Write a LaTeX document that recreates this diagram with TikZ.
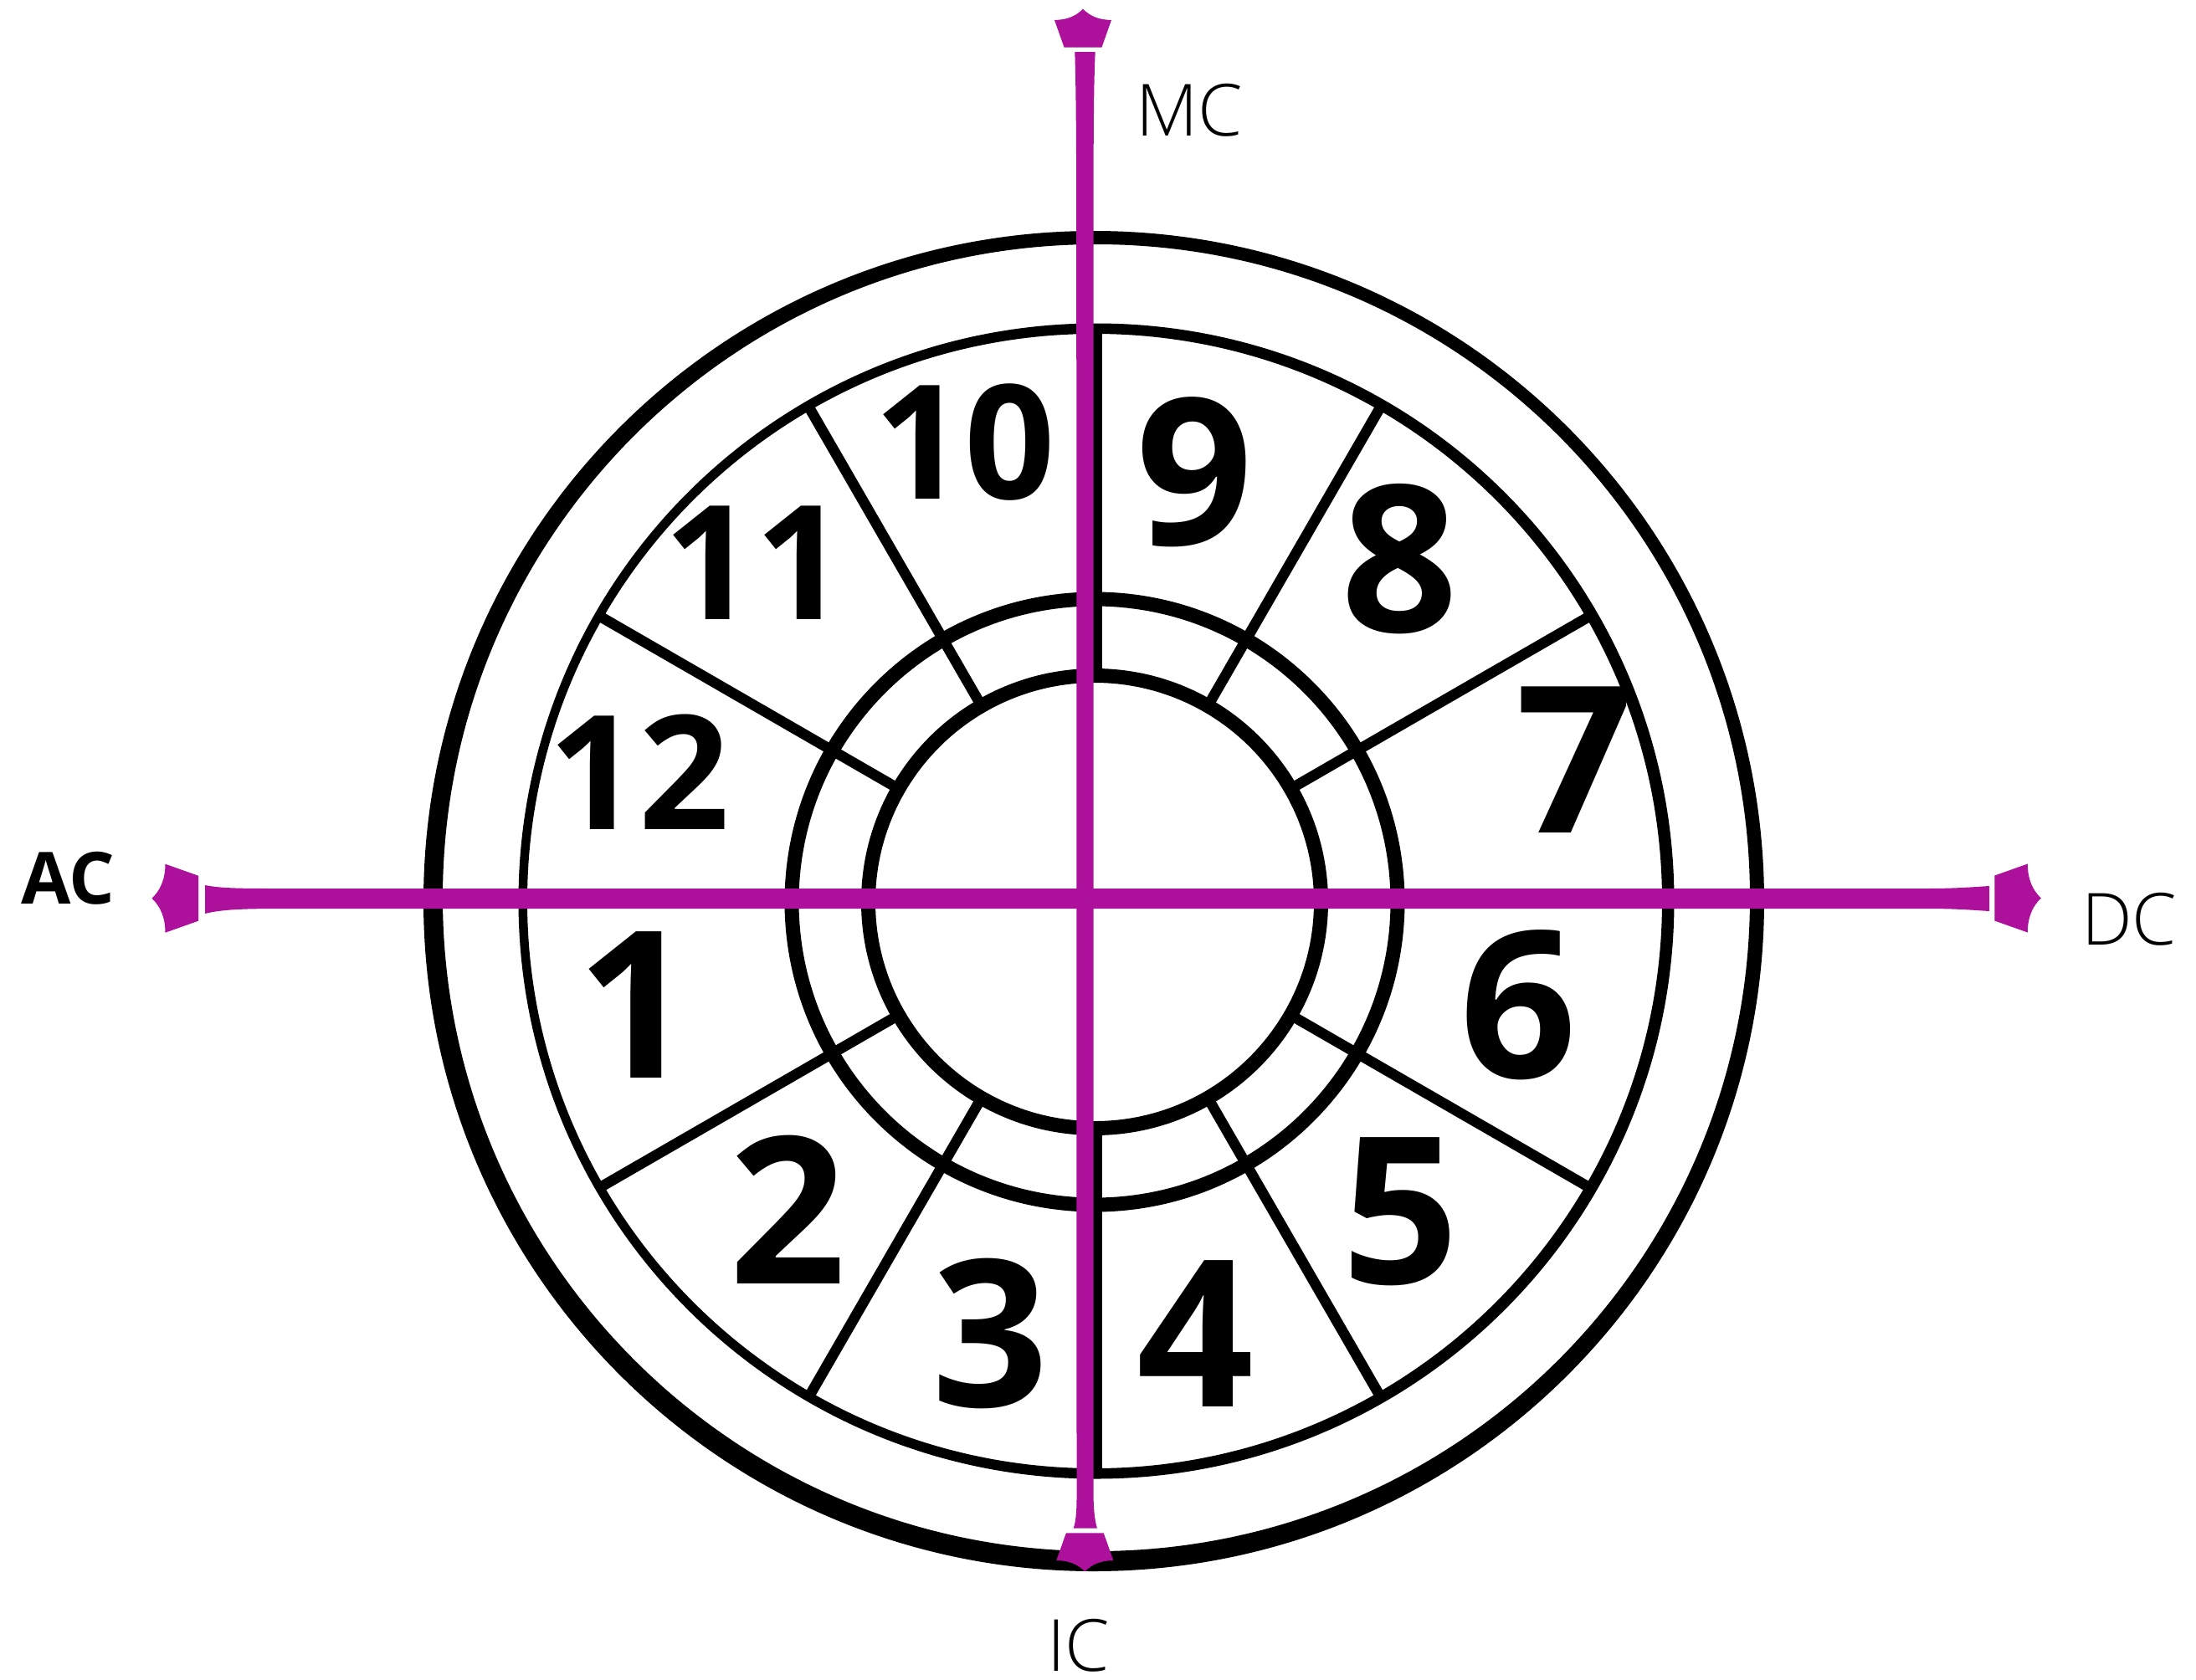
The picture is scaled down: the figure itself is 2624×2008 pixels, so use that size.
\documentclass[tikz,border=0pt]{standalone}
\usepackage{fontspec}
\setmainfont{Open Sans}
\newfontfamily\lightfont{Open Sans Light}
\definecolor{axcol}{RGB}{173,16,155}
\tikzset{
  cusp/.style={line width=12.5pt, black},
  ring/.style={line width=17pt, black},
  housenum/.style={font=\bfseries\fontsize{245}{245}\selectfont, inner sep=0pt, anchor=base},
  housenumtwo/.style={font=\bfseries\fontsize{190}{190}\selectfont, inner sep=0pt, anchor=base},
  anglelbl/.style={font=\lightfont\fontsize{86}{86}\selectfont, inner sep=0pt, anchor=base west},
}
\newcommand\axhead[1]{\begin{scope}[#1]\fill[axcol] (0,-27) -- (39.5,-41) .. controls (39.5,-22) and (46,-9) .. (55.5,0) .. controls (46,9) and (39.5,22) .. (39.5,41) -- (0,27) -- cycle;\end{scope}}
\begin{document}
\begin{tikzpicture}[x=1pt,y=-1pt]
\useasboundingbox (0,0) rectangle (2624,2008);
\coordinate (c) at (1308,1078);
% outer rings
\fill[even odd rule] (1307,1077) circle[radius=801] (1310,1073) circle[radius=781];
\fill[even odd rule] (1310,1077) circle[radius=690.5] (1308,1077) circle[radius=678];
\draw[ring] (c) circle[radius=362];
\draw[ring] (c) circle[radius=270.5];
% house cusps
\foreach \a in {30,60,120,150,210,240,300,330}
  \draw[cusp] ([shift={(\a:270)}]c) -- ([shift={(\a:685)}]c);
\draw[ring] ([shift={(90:270)}]c) -- ([shift={(90:685)}]c);
\draw[ring] ([shift={(270:270)}]c) -- ([shift={(270:685)}]c);
% axes
\fill[axcol] (245,1058) .. controls (265,1062) and (290,1062) .. (340,1062) -- (2300,1062)
  .. controls (2340,1062) and (2360,1060) .. (2377,1059) -- (2377,1089)
  .. controls (2360,1088) and (2340,1086) .. (2300,1086) -- (340,1086)
  .. controls (290,1086) and (265,1087) .. (245,1092) -- cycle;
\fill[axcol] (1284.3,62) -- (1308.7,62) .. controls (1307,100) and (1306.6,150) .. (1306.6,250)
  -- (1306.6,1790) .. controls (1307,1810) and (1309,1820) .. (1311,1826.7)
  -- (1282.7,1826.7) .. controls (1285,1820) and (1286.5,1810) .. (1286.5,1790)
  -- (1286.2,250) .. controls (1286,150) and (1285.5,100) .. (1284.3,62) -- cycle;
\axhead{shift={(237pt,-1073.7pt)}, x={(-1pt,0pt)}, y={(0pt,-1pt)}}
\axhead{shift={(2383.3pt,-1073.5pt)}, x={(1pt,0pt)}, y={(0pt,-1pt)}}
\axhead{shift={(1294pt,-56.7pt)}, x={(0pt,0.83pt)}, y={(0.83pt,0pt)}}
\axhead{shift={(1296.3pt,-1832.3pt)}, x={(0pt,-0.83pt)}, y={(0.83pt,0pt)}}
% angle labels
\node[anglelbl] (mc) at (1357,162) {MC};
\node[anglelbl] (ic) at (1251,1997) {IC};
\node[anglelbl] (dc) at (2487,1129.3) {DC};
\node[anglelbl, font=\bfseries\fontsize{86}{86}\selectfont] (ac) at (25,1080) {AC};
% house numbers
\node[housenum] (h1) at (759,1288.3) {1};
\node[housenum] (h2) at (941.3,1534.7) {2};
\node[housenum] (h3) at (1183.5,1681) {3};
\node[housenum] (h4) at (1428.6,1681) {4};
\node[housenum] (h5) at (1673.3,1534) {5};
\node[housenum] (h6) at (1814,1288) {6};
\node[housenum] (h7) at (1881,995.4) {7};
\node[housenum] (h8) at (1672.9,755) {8};
\node[housenum] (h9) at (1427.5,651) {9};
\node[housenumtwo] (h10) at (1152.5,596) {10};
\node[housenumtwo] (h11) at (902,740.8) {11};
\node[housenumtwo] (h12) at (763.8,991.8) {12};
\end{tikzpicture}
\end{document}
